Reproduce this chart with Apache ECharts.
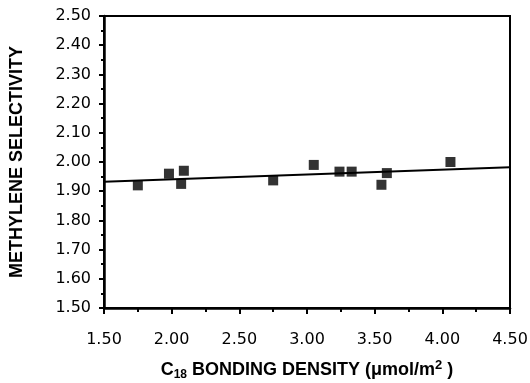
<!DOCTYPE html>
<html>
<head>
<meta charset="utf-8">
<script src="https://cdn.jsdelivr.net/npm/echarts@6/dist/echarts.min.js"></script>
<style>
  html, body { margin: 0; padding: 0; background: #fff; }
  #chart { width: 530px; height: 383px; }
</style>
</head>
<body>
<div id="chart"></div>
<script>
// C18 bonding density (umol/m2) vs methylene selectivity
const bondingDensity = [1.75, 1.98, 2.09, 2.07, 2.75, 3.05, 3.24, 3.33, 3.55, 3.59, 4.06];
const selectivity    = [1.92, 1.96, 1.97, 1.925, 1.937, 1.99, 1.967, 1.967, 1.922, 1.962, 2.0];

// least squares line as drawn
const fitX = [1.50, 4.50];
const fitY = [1.932, 1.982];

const chart = echarts.init(document.getElementById('chart'));

const tickFont = { color: '#000', fontFamily: 'DejaVu Sans', fontSize: 16 };
const nameFont = { fontFamily: 'Liberation Sans', fontWeight: 'bold', fontSize: 18, color: '#000' };

chart.setOption({
  animation: false,
  grid: {
    left: 104, right: 20, top: 16, bottom: 75,
    outerBoundsMode: 'none', containLabel: false,
    show: true, borderColor: '#000', borderWidth: 2
  },
  xAxis: {
    type: 'value', min: 1.5, max: 4.5, interval: 0.5,
    name: '{a|C}{sub|18}{a| BONDING DENSITY (μmol/m}{sup|2}{a| )}',
    nameLocation: 'middle', nameGap: 51,
    nameTextStyle: {
      rich: {
        a: nameFont,
        sub: Object.assign({}, nameFont, { fontSize: 12, padding: [9, 0, 0, 0] }),
        sup: Object.assign({}, nameFont, { fontSize: 13, padding: [0, 0, 9, 0] })
      }
    },
    axisLine: { lineStyle: { color: '#000', width: 2.5 } },
    axisTick: { inside: false, length: 6, lineStyle: { color: '#000', width: 2 } },
    minorTick: { show: true, splitNumber: 2, length: 4, lineStyle: { color: '#000', width: 2 } },
    splitLine: { show: false },
    axisLabel: Object.assign({}, tickFont, { margin: 24, formatter: v => v.toFixed(2) })
  },
  yAxis: {
    type: 'value', min: 1.5, max: 2.5, interval: 0.1,
    name: 'METHYLENE SELECTIVITY',
    nameLocation: 'middle', nameGap: 78, nameRotate: 90,
    nameTextStyle: nameFont,
    axisLine: { lineStyle: { color: '#000', width: 2.5 } },
    axisTick: { inside: false, length: 5, lineStyle: { color: '#000', width: 2 } },
    minorTick: { show: true, splitNumber: 2, length: 3, lineStyle: { color: '#000', width: 2 } },
    splitLine: { show: false },
    axisLabel: Object.assign({}, tickFont, { margin: 13, formatter: v => v.toFixed(2) })
  },
  series: [
    {
      type: 'line',
      data: fitX.map((x, i) => [x, fitY[i]]),
      symbol: 'none',
      lineStyle: { color: '#000', width: 2 },
      z: 2
    },
    {
      type: 'scatter',
      data: bondingDensity.map((x, i) => [x, selectivity[i]]),
      symbol: 'rect',
      symbolSize: 10,
      itemStyle: { color: '#000' },
      z: 3
    }
  ]
});
</script>
</body>
</html>
